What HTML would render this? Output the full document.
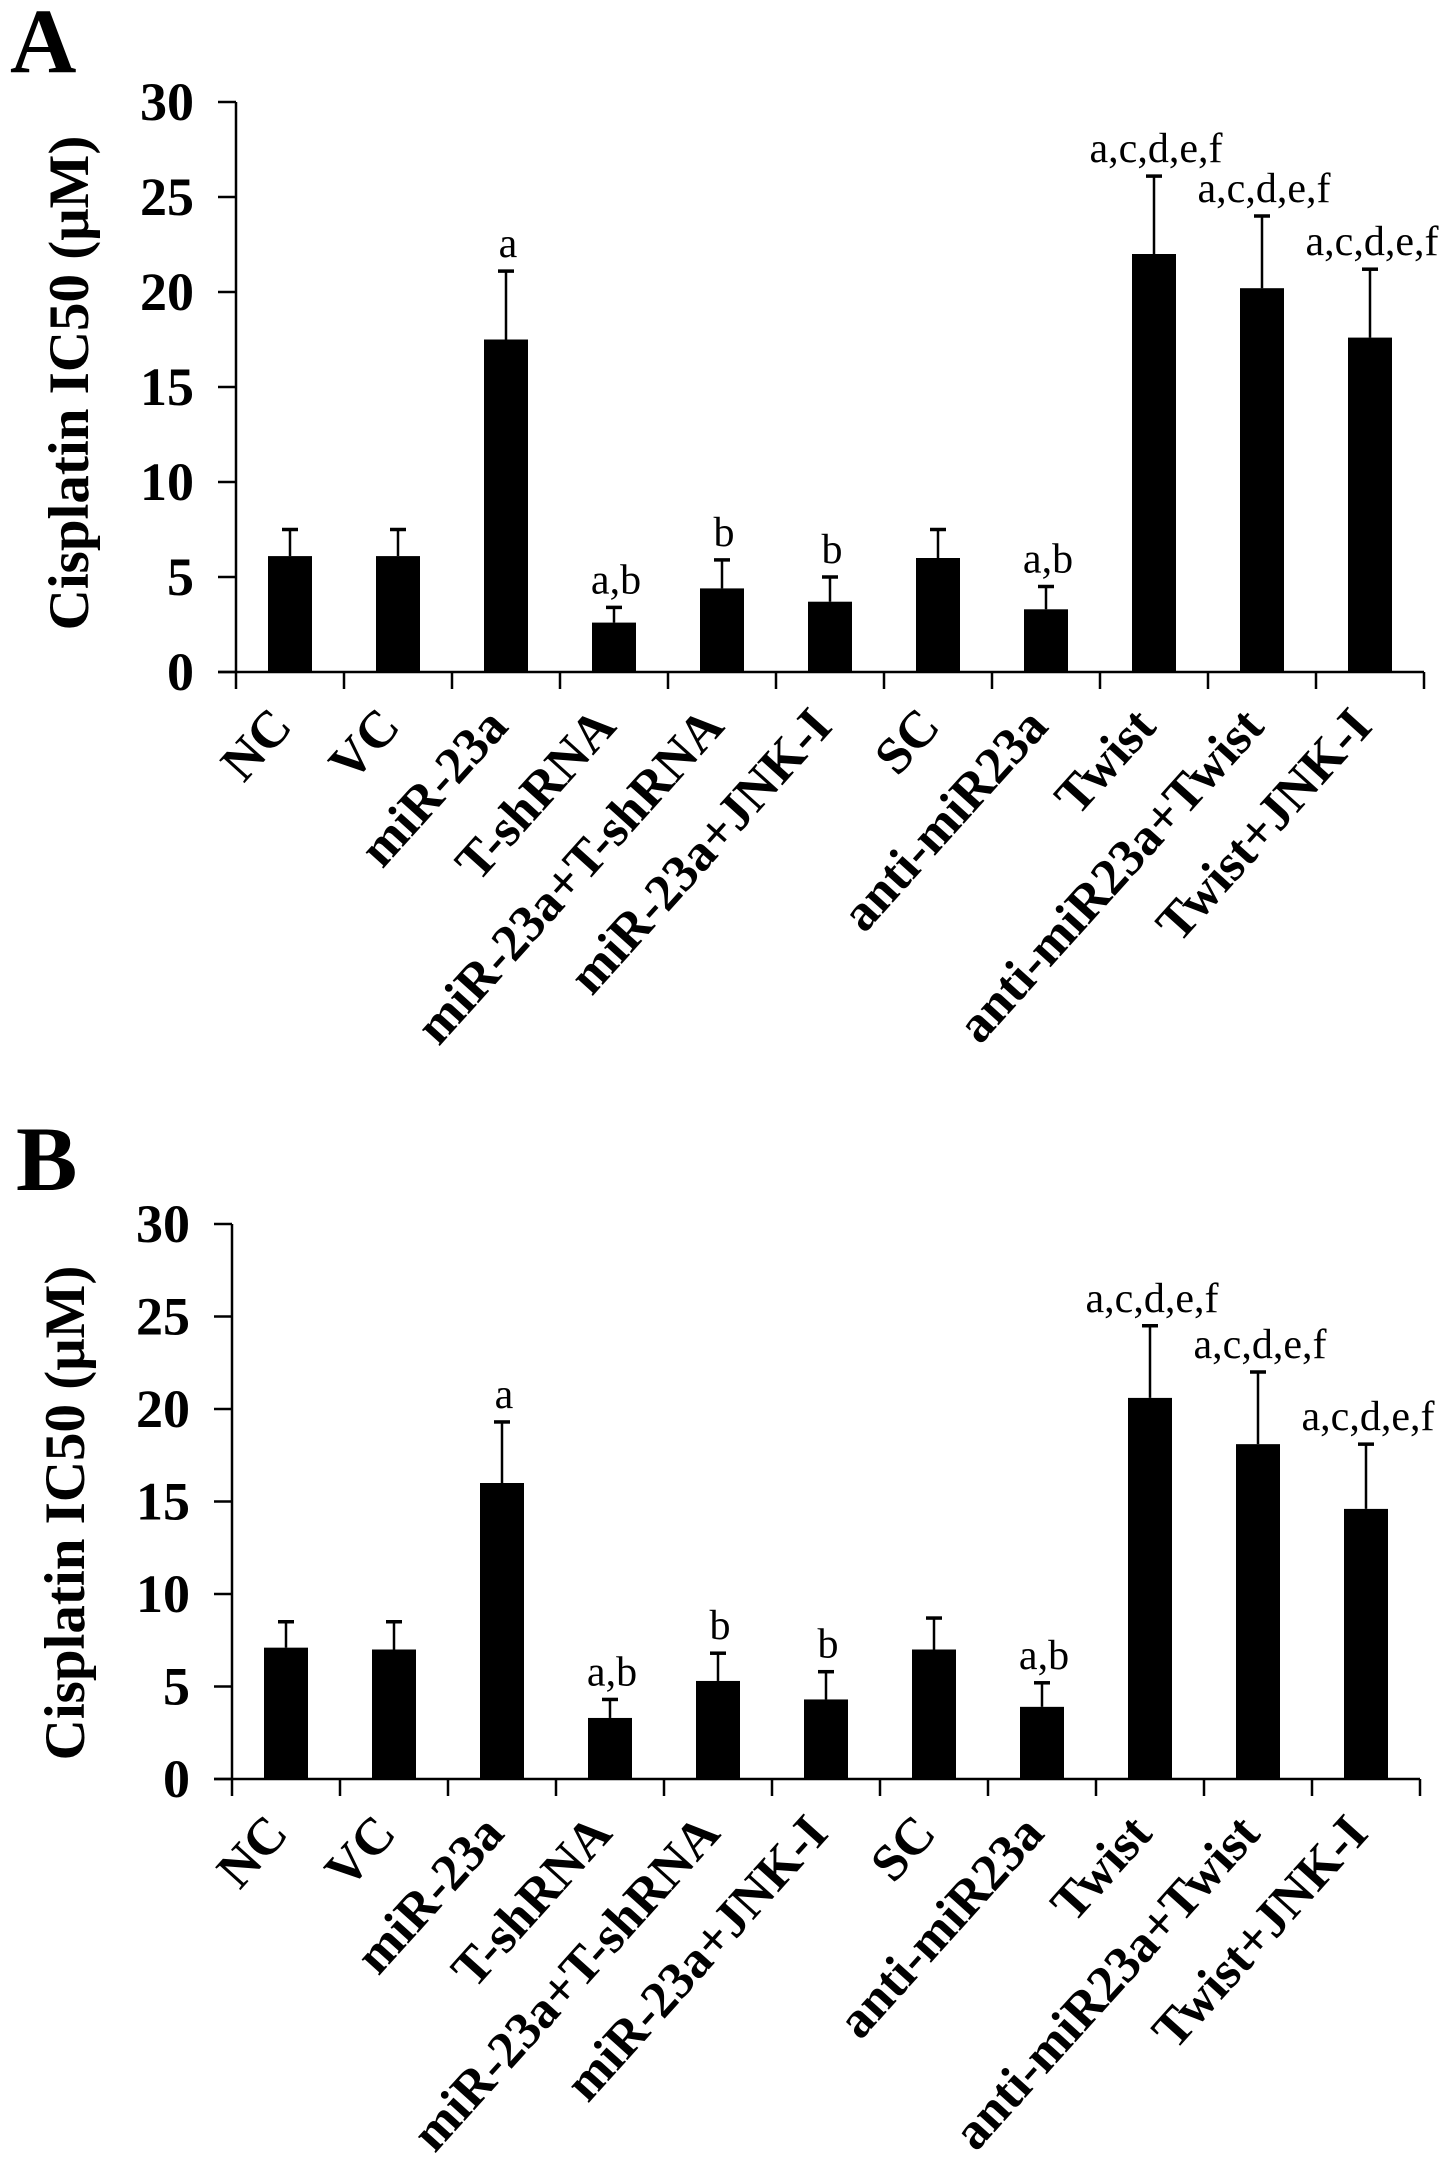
<!DOCTYPE html>
<html><head><meta charset="utf-8">
<style>
html,body{margin:0;padding:0;background:#fff;}
svg{display:block;}
text{font-family:"Liberation Serif","DejaVu Serif",serif;fill:#000;}
</style></head>
<body>
<svg id="fig" width="1441" height="2176" viewBox="0 0 1441 2176" xmlns="http://www.w3.org/2000/svg"></svg>
<script>
const categories = ["NC","VC","miR-23a","T-shRNA","miR-23a+T-shRNA","miR-23a+JNK-I","SC","anti-miR23a","Twist","anti-miR23a+Twist","Twist+JNK-I"];
const valuesA = [6.1,6.1,17.5,2.6,4.4,3.7,6.0,3.3,22.0,20.2,17.6];
const errorsA = [1.4,1.4,3.6,0.8,1.5,1.3,1.5,1.2,4.1,3.8,3.6];
const valuesB = [7.1,7.0,16.0,3.3,5.3,4.3,7.0,3.9,20.6,18.1,14.6];
const errorsB = [1.4,1.5,3.3,1.0,1.5,1.5,1.7,1.3,3.9,3.9,3.5];
const annots = ["","","a","a,b","b","b","","a,b","a,c,d,e,f","a,c,d,e,f","a,c,d,e,f"];
const yTicks = [0,5,10,15,20,25,30];

const NS="http://www.w3.org/2000/svg";
const svg=document.getElementById('fig');
function mk(tag,attrs,parent){const e=document.createElementNS(NS,tag);for(const k in attrs)e.setAttribute(k,attrs[k]);(parent||svg).appendChild(e);return e;}

function panel(letter, vals, errs, ax){
  const g=mk('g',{});
  
  
  const yScale=v=>ax.y0-(v/30)*(ax.y0-ax.y30);
  const xCenter=i=>ax.x0+ax.step*(i+0.5);
  const lab=mk('text',{x:ax.lx,y:ax.ly,'font-size':92,'font-weight':'bold'},g);
  lab.textContent=letter;
  
  
  const xEnd=ax.x0+ax.step*categories.length;
  const ya=mk('line',{x1:ax.x0,y1:ax.y30,x2:ax.x0,y2:ax.y0,stroke:'#000','stroke-width':2.5},g);
  
  
  const xa=mk('line',{x1:ax.x0-18,y1:ax.y0,x2:xEnd,y2:ax.y0,stroke:'#000','stroke-width':2.5},g);
  
  
  yTicks.forEach(t=>{
    const y=yScale(t);
    const tl=mk('line',{x1:ax.x0-18,y1:y,x2:ax.x0,y2:y,stroke:'#000','stroke-width':2.5},g);
    
    
    const tx=mk('text',{x:ax.x0-42,y:y+18,'font-size':54,'font-weight':'bold','text-anchor':'end'},g);
    tx.textContent=t;
    
    
  });
  for(let i=0;i<=categories.length;i++){
    const x=ax.x0+ax.step*i;
    const tk=mk('line',{x1:x,y1:ax.y0,x2:x,y2:ax.y0+17,stroke:'#000','stroke-width':2.5},g);
    
    
  }
  const yt=mk('text',{x:0,y:0,'font-size':57,'font-weight':'bold','text-anchor':'middle',transform:`translate(${ax.tx},${ax.ty}) rotate(-90)`},g);
  yt.textContent='Cisplatin IC50 (μM)';
  
  
  vals.forEach((v,i)=>{
    const cx=xCenter(i), bw=44;
    const b=mk('rect',{x:cx-bw/2,y:yScale(v),width:bw,height:ax.y0-yScale(v),fill:'#000'},g);
    
    
    const top=yScale(v+errs[i]);
    const el=mk('line',{x1:cx,y1:top,x2:cx,y2:yScale(v),stroke:'#000','stroke-width':2.5},g);
    
    
    const cap=mk('line',{x1:cx-8,y1:top,x2:cx+8,y2:top,stroke:'#000','stroke-width':3.5},g);
    
    
    if(annots[i]){
      const a=mk('text',{x:cx+2,y:top-14,'font-size':42,'text-anchor':'middle'},g);
      a.textContent=annots[i];
      
      
    }
    const xl=mk('text',{x:0,y:0,'font-size':52,'font-weight':'bold','text-anchor':'end',transform:`translate(${cx+4},${ax.y0+56}) rotate(-48)`},g);
    xl.textContent=categories[i];
    
    
  });
}
panel('A',valuesA,errorsA,{x0:236,y0:672,y30:102,step:108,lx:10,ly:72,tx:88,ty:383});
panel('B',valuesB,errorsB,{x0:232,y0:1779,y30:1224,step:108,lx:16,ly:1190,tx:84,ty:1513});
</script>
</body></html>
